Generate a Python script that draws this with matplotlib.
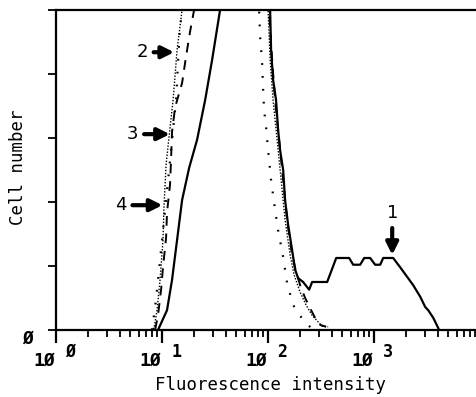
import numpy as np
import matplotlib.pyplot as plt

# log10(fluorescence) and cell counts (axis units, 5 = top of frame; peaks run off scale)
c1_logx = [0.962, 1.047, 1.094, 1.142, 1.189, 1.255, 1.330, 1.406, 1.472, 1.547, 1.78, 2.019,
           2.028, 2.047, 2.075, 2.094, 2.113, 2.142, 2.160, 2.189, 2.226, 2.255, 2.283, 2.330,
           2.387, 2.415, 2.557, 2.642, 2.764, 2.802, 2.868, 2.906, 2.962, 3.009, 3.057, 3.085,
           3.179, 3.245, 3.311, 3.368, 3.434, 3.481, 3.509, 3.557, 3.613]
c1_count = [0, 0.31, 0.78, 1.41, 2.03, 2.53, 2.97, 3.59, 4.22, 5.0, 8.0, 5.0,
            4.38, 3.91, 3.59, 3.13, 2.81, 2.5, 2.03, 1.64, 1.25, 0.94, 0.81, 0.75,
            0.63, 0.75, 0.75, 1.125, 1.125, 1.02, 1.02, 1.125, 1.125, 1.02, 1.02, 1.125,
            1.125, 0.98, 0.83, 0.70, 0.52, 0.36, 0.31, 0.19, 0]

c2_logx = [0.887, 0.925, 0.953, 0.981, 1.009, 1.019, 1.038, 1.066, 1.104, 1.142, 1.189, 1.6,
           2.0, 2.019, 2.047, 2.085, 2.123, 2.16, 2.208, 2.245, 2.302, 2.358, 2.415, 2.472,
           2.509, 2.566]
c2_count = [0, 0.03, 0.31, 0.78, 1.41, 1.95, 2.58, 3.02, 3.59, 4.38, 5.0, 8.0,
            5.0, 4.22, 3.59, 2.97, 2.34, 1.72, 1.17, 0.86, 0.59, 0.39, 0.23, 0.125,
            0.06, 0.05]

c3_logx = [0.934, 0.962, 0.991, 1.009, 1.038, 1.047, 1.075, 1.085, 1.094, 1.123, 1.189, 1.226,
           1.264, 1.302, 1.65, 2.009, 2.038, 2.066, 2.104, 2.142, 2.179, 2.226, 2.264, 2.302,
           2.349, 2.396, 2.443, 2.491, 2.547]
c3_count = [0, 0.23, 0.63, 0.98, 1.44, 1.84, 2.27, 2.66, 3.09, 3.48, 3.86, 4.27,
            4.66, 5.0, 8.0, 5.0, 4.22, 3.59, 2.97, 2.34, 1.72, 1.17, 0.91, 0.70,
            0.5, 0.34, 0.19, 0.08, 0.05]

c4_logx = [0.906, 0.943, 0.981, 1.019, 1.057, 1.094, 1.132, 1.151, 1.170, 1.198, 1.55, 1.915,
           1.925, 1.943, 1.953, 1.962, 1.981, 2.0, 2.028, 2.066, 2.094, 2.142, 2.179, 2.236,
           2.302, 2.368, 2.415]
c4_count = [0, 0.47, 1.09, 1.72, 2.34, 2.97, 3.59, 4.19, 4.77, 5.0, 8.0, 5.0,
            4.58, 4.19, 3.75, 3.44, 3.17, 2.81, 2.34, 1.875, 1.56, 1.14, 0.73, 0.39,
            0.22, 0.09, 0.02]

decades = [0, 1, 2, 3]

fig = plt.figure(figsize=(4.76, 3.97), dpi=100)
ax = fig.add_axes([0.1176, 0.1688, 0.8824, 0.806])
mono = 'DejaVu Sans Mono'

ax.plot(10 ** np.array(c1_logx), c1_count, color='black', lw=1.6)
ax.plot(10 ** np.array(c2_logx), c2_count, color='black', lw=1.0, linestyle=(0, (1, 1.2)))
ax.plot(10 ** np.array(c3_logx), c3_count, color='black', lw=1.4, linestyle=(0, (5, 4)))
ax.plot(10 ** np.array(c4_logx), c4_count, color='black', lw=1.6, linestyle=(0, (0.8, 5)))

ax.set_xscale('log')
ax.set_xlim(1, 10 ** 3.96)
ax.set_ylim(0, 5)

for s in ['left', 'bottom', 'top']:
    ax.spines[s].set_linewidth(1.6)
ax.spines['right'].set_visible(False)

ax.set_xticks([10 ** d for d in decades])
ax.set_xticks([m * 10 ** d for d in decades for m in range(2, 10)], minor=True)
ax.set_xticklabels([])
ax.tick_params(axis='x', which='major', direction='out', length=9, width=1.6)
ax.tick_params(axis='x', which='minor', direction='out', length=5, width=1.3)
ax.set_yticks([0, 1, 2, 3, 4, 5])
ax.set_yticklabels([])
ax.tick_params(axis='y', direction='out', length=6, width=1.3)

# tick labels in the typewriter style of the original
xt = ax.get_xaxis_transform()
for d in decades:
    ax.annotate('1Ø', (10 ** d, 0), xycoords=xt, xytext=(-1, -40), textcoords='offset pixels',
                ha='right', va='bottom', fontsize=13, family=mono, fontweight='bold')
    ax.annotate(str(d) if d else 'Ø', (10 ** d, 0), xycoords=xt, xytext=(9, -31),
                textcoords='offset pixels', ha='left', va='bottom', fontsize=12, family=mono,
                fontweight='bold')
ax.annotate('Ø', (0, 0), xycoords='axes fraction', xytext=(-28, -18), textcoords='offset pixels',
            ha='center', va='bottom', fontsize=13, family=mono, fontweight='bold')

ax.set_xlabel('Fluorescence intensity', family=mono, fontsize=12.5)
ax.xaxis.set_label_coords(0.51, -0.145)
ax.set_ylabel('Cell number', family=mono, fontsize=12.5)
ax.yaxis.set_label_coords(-0.07, 0.51)

arrow = dict(arrowstyle='-|>', color='black', lw=3, mutation_scale=18)
ax.annotate('2', xy=(10 ** 1.14, 4.34), xytext=(10 ** 0.76, 4.34), fontsize=13, ha='left',
            va='center', arrowprops=arrow)
ax.annotate('3', xy=(10 ** 1.10, 3.06), xytext=(10 ** 0.67, 3.06), fontsize=13, ha='left',
            va='center', arrowprops=arrow)
ax.annotate('4', xy=(10 ** 1.03, 1.95), xytext=(10 ** 0.56, 1.95), fontsize=13, ha='left',
            va='center', arrowprops=arrow)
ax.annotate('1', xy=(10 ** 3.17, 1.13), xytext=(10 ** 3.17, 1.68), fontsize=13, ha='center',
            va='bottom', arrowprops=arrow)

fig.savefig('out.png', dpi=100)
